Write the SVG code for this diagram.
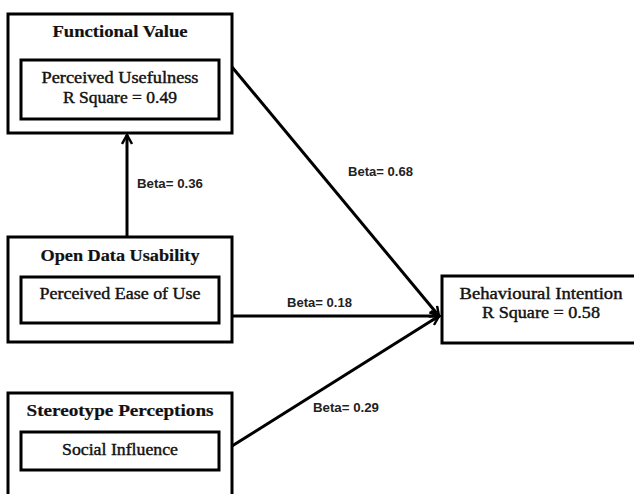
<svg xmlns="http://www.w3.org/2000/svg" width="634" height="494" viewBox="0 0 634 494">
<style>
.box{fill:#fff;stroke:#000;stroke-width:3}
.t{font-family:"Liberation Serif","Times New Roman",serif;font-size:16px;fill:#111;text-anchor:middle;stroke:#111;stroke-width:0.4}
.b{font-weight:bold;stroke-width:0.2}
.lbl{font-family:"Liberation Sans",Arial,sans-serif;font-size:12.5px;font-weight:bold;fill:#222}
.ln{stroke:#000;stroke-width:3;fill:none}
</style>
<defs>
<marker id="ah" viewBox="0 0 12 12" refX="11" refY="6" markerWidth="12" markerHeight="12" markerUnits="userSpaceOnUse" orient="auto">
<path d="M2,1 L11,6 L2,11" fill="none" stroke="#000" stroke-width="2.5"/>
</marker>
</defs>
<rect width="634" height="494" fill="#fff"/>
<g id="connectors">
<line class="ln" x1="127" y1="237" x2="127" y2="135" marker-end="url(#ah)"/>
<line class="ln" x1="232" y1="67" x2="439" y2="316" marker-end="url(#ah)"/>
<line class="ln" x1="232" y1="316" x2="440" y2="316" marker-end="url(#ah)"/>
<line class="ln" x1="232" y1="446" x2="439" y2="316" marker-end="url(#ah)"/>
<text class="lbl" x="137" y="188" textLength="66" lengthAdjust="spacingAndGlyphs">Beta= 0.36</text>
<text class="lbl" x="348" y="176" textLength="65" lengthAdjust="spacingAndGlyphs">Beta= 0.68</text>
<text class="lbl" x="287" y="307" textLength="65" lengthAdjust="spacingAndGlyphs">Beta= 0.18</text>
<text class="lbl" x="313" y="412" textLength="66" lengthAdjust="spacingAndGlyphs">Beta= 0.29</text>
</g>
<g id="functional-value">
<rect class="box" x="8" y="14" width="224" height="119"/>
<text class="t b" x="120" y="37" textLength="135" lengthAdjust="spacingAndGlyphs">Functional Value</text>
<rect class="box" x="21" y="60" width="198" height="59"/>
<text class="t" x="120" y="83" textLength="157" lengthAdjust="spacingAndGlyphs">Perceived Usefulness</text>
<text class="t" x="120" y="103" textLength="114" lengthAdjust="spacingAndGlyphs">R Square = 0.49</text>
</g>
<g id="open-data-usability">
<rect class="box" x="8" y="237" width="224" height="105"/>
<text class="t b" x="120" y="261" textLength="159" lengthAdjust="spacingAndGlyphs">Open Data Usability</text>
<rect class="box" x="21" y="277" width="198" height="46"/>
<text class="t" x="120" y="299" textLength="161" lengthAdjust="spacingAndGlyphs">Perceived Ease of Use</text>
</g>
<g id="stereotype-perceptions">
<rect class="box" x="8" y="393" width="224" height="110"/>
<text class="t b" x="120" y="416" textLength="187" lengthAdjust="spacingAndGlyphs">Stereotype Perceptions</text>
<rect class="box" x="21" y="432" width="198" height="38"/>
<text class="t" x="120" y="455" textLength="116" lengthAdjust="spacingAndGlyphs">Social Influence</text>
</g>
<g id="behavioural-intention">
<rect class="box" x="442" y="276" width="200" height="67"/>
<text class="t" x="541" y="299" textLength="163" lengthAdjust="spacingAndGlyphs">Behavioural Intention</text>
<text class="t" x="541" y="318" textLength="118" lengthAdjust="spacingAndGlyphs">R Square = 0.58</text>
</g>
</svg>
